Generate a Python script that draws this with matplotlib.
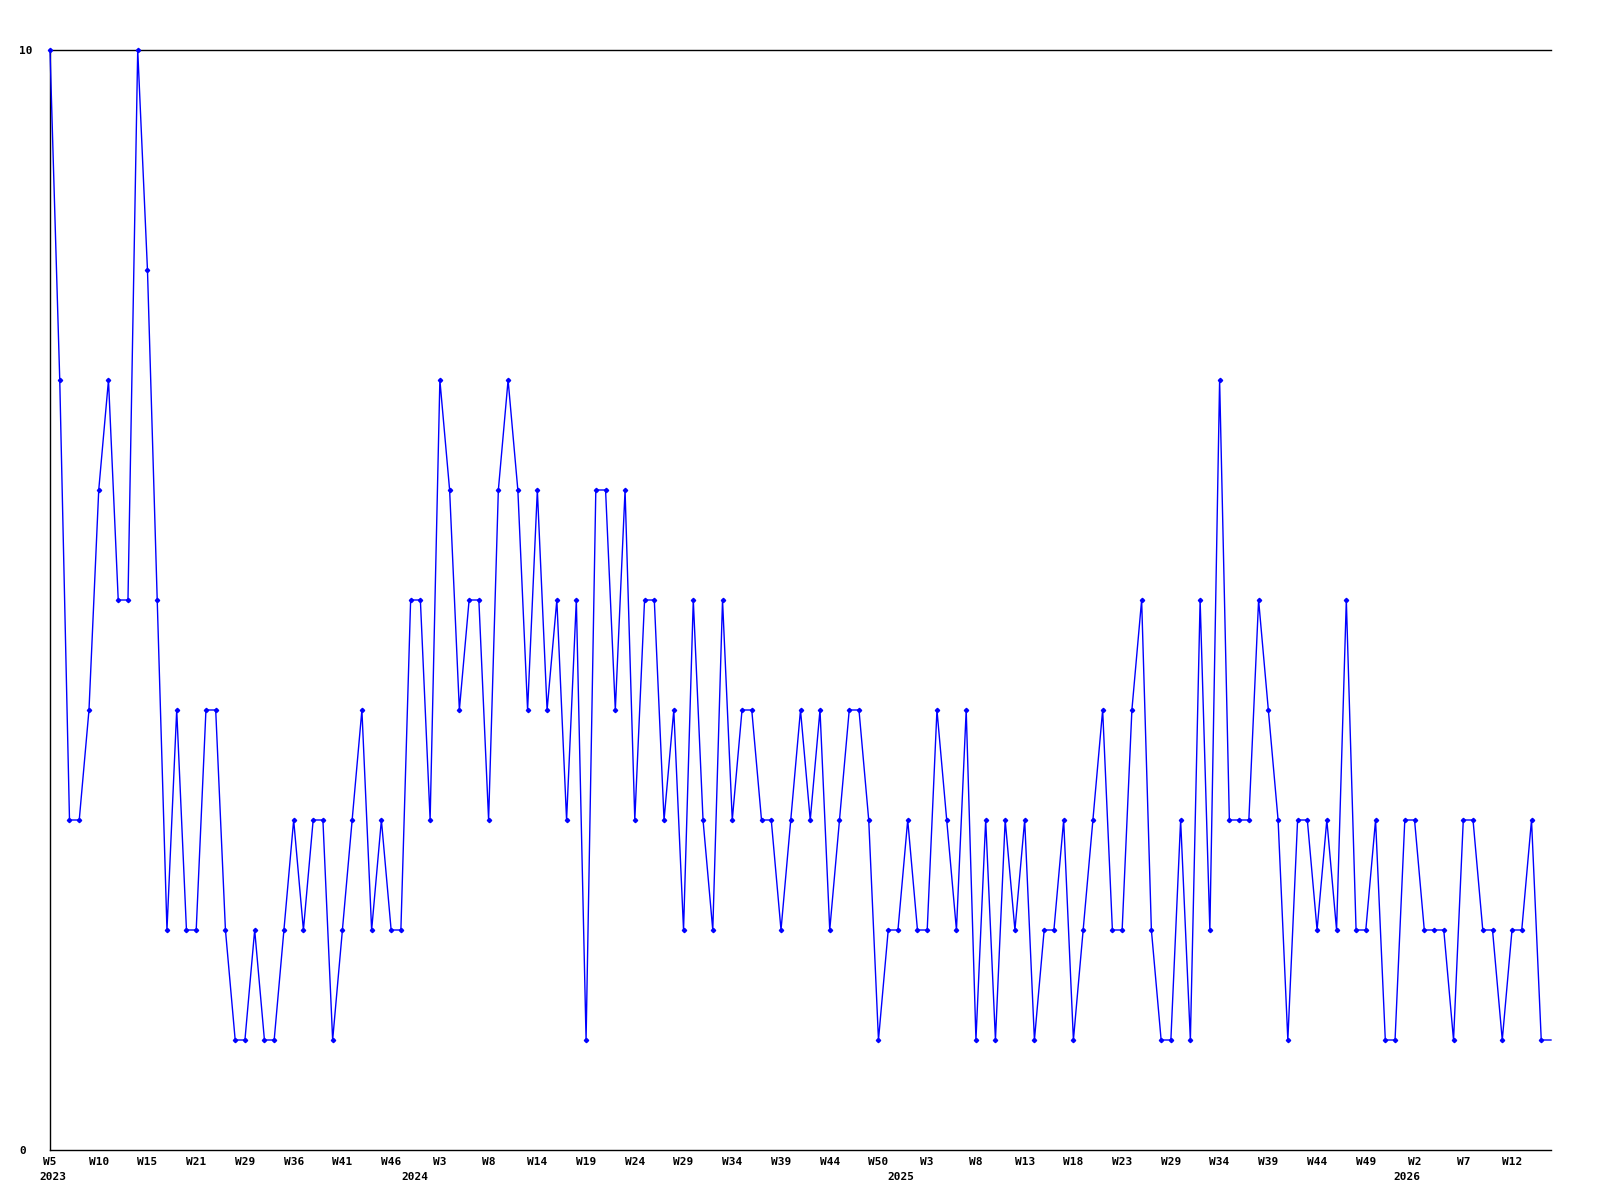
import matplotlib
matplotlib.use('Agg')
import matplotlib.pyplot as plt
import matplotlib.transforms as mtransforms
import numpy as np

# weekly counts, 2023 W5 .. 2026 W15 (one point per reported week)
valores = [10, 7, 3, 3, 4, 6, 7, 5, 5, 10,
           8, 5, 2, 4, 2, 2, 4, 4, 2, 1,
           1, 2, 1, 1, 2, 3, 2, 3, 3, 1,
           2, 3, 4, 2, 3, 2, 2, 5, 5, 3,
           7, 6, 4, 5, 5, 3, 6, 7, 6, 4,
           6, 4, 5, 3, 5, 1, 6, 6, 4, 6,
           3, 5, 5, 3, 4, 2, 5, 3, 2, 5,
           3, 4, 4, 3, 3, 2, 3, 4, 3, 4,
           2, 3, 4, 4, 3, 1, 2, 2, 3, 2,
           2, 4, 3, 2, 4, 1, 3, 1, 3, 2,
           3, 1, 2, 2, 3, 1, 2, 3, 4, 2,
           2, 4, 5, 2, 1, 1, 3, 1, 5, 2,
           7, 3, 3, 3, 5, 4, 3, 1, 3, 3,
           2, 3, 2, 5, 2, 2, 3, 1, 1, 3,
           3, 2, 2, 2, 1, 3, 3, 2, 2, 1,
           2, 2, 3, 1, 1]

semanas = ['W5', 'W10', 'W15', 'W21', 'W29', 'W36', 'W41', 'W46',
           'W3', 'W8', 'W14', 'W19', 'W24', 'W29', 'W34', 'W39', 'W44', 'W50',
           'W3', 'W8', 'W13', 'W18', 'W23', 'W29', 'W34', 'W39', 'W44', 'W49',
           'W2', 'W7', 'W12']

anos = ['2023', '2024', '2025', '2026']
anos_pos = [0.3, 37.4, 87.3, 139.2]

y_ticks = [0, 10]

x = np.arange(len(valores))

fig = plt.figure(figsize=(16, 12), dpi=100)
ax = fig.add_axes([50 / 1600, 50 / 1200, 1501 / 1600, 1100 / 1200])

ax.plot(x, valores, color='#0000ff', linewidth=1.0, marker='D', markersize=2.2,
        markevery=list(range(len(valores) - 1)), clip_on=False, zorder=3)

ax.set_xlim(0, len(valores) - 1)
ax.set_ylim(0, 10)

ax.spines['right'].set_visible(False)
for s in ['left', 'bottom', 'top']:
    ax.spines[s].set_linewidth(1.0)
    ax.spines[s].set_color('black')

fonte = dict(family='DejaVu Sans Mono', weight='bold', size=8)

ax.set_xticks(x[::5])
ax.set_xticklabels(semanas, **fonte)
ax.tick_params(axis='x', length=0, pad=5)

ax.set_yticks(y_ticks)
ax.set_yticklabels([str(v) for v in y_ticks], **fonte)
ax.tick_params(axis='y', length=0, pad=22)
for lbl in ax.get_yticklabels():
    lbl.set_horizontalalignment('left')

trans = mtransforms.blended_transform_factory(ax.transData, ax.transAxes)
for ano, pos in zip(anos, anos_pos):
    ax.text(pos, -0.0245, ano, transform=trans, ha='center', va='center', **fonte)

plt.savefig('out.png', dpi=100, facecolor='white')
